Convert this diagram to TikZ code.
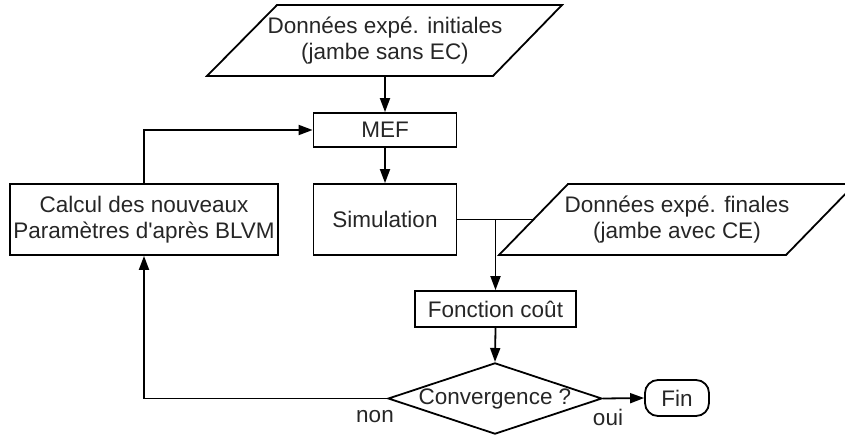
\documentclass[tikz,border=0pt]{standalone}
\usepackage{fontspec}
\setmainfont{Liberation Sans}[Ligatures=TeXOff]
\usetikzlibrary{arrows.meta,shapes.geometric}
\begin{document}
\begin{tikzpicture}[x=1pt,y=-1pt,
  every node/.style={font=\fontsize{22.5}{26}\selectfont, text=black!85},
  line/.style={line width=1.8pt, draw=black},
  arr/.style={line, -{Triangle[length=14pt,width=10pt]}},
  box/.style={line, rectangle, inner sep=0pt, align=center},
  ptext/.style={inner sep=0pt, align=center},
  lbl/.style={inner sep=0pt}]
\useasboundingbox (0,0) rectangle (845,439);
% top parallelogram
\draw[line] (277,5) -- (562,5) -- (493,76) -- (207,76) -- cycle;
\node[ptext, minimum height=71pt] (d1) at (385,40.5) {Données expé. initiales\\(jambe sans EC)};
% boxes
\node[box, minimum width=143pt, minimum height=34pt] (mef) at (385,130) {MEF};
\node[box, minimum width=143pt, minimum height=71pt] (sim) at (385,219.5) {Simulation};
\node[box, minimum width=268pt, minimum height=71pt] (calc) at (144,219.5) {Calcul des nouveaux\\Paramètres d'après BLVM};
% second parallelogram
\draw[line] (568,184) -- (855,184) -- (786,255) -- (499,255) -- cycle;
\node[ptext] (d2) at (677,219.5) {Données expé. finales\\(jambe avec CE)};
\coordinate (d2w) at (533.5,219.5);
% cost function
\node[box, minimum width=161pt, minimum height=36pt] (fc) at (495.5,309) {Fonction coût};
% decision
\node[line, diamond, aspect=3, inner sep=0pt, minimum width=212pt, minimum height=71pt] (conv) at (495,398.5) {Convergence ?};
\node[line, rounded corners=13pt, rectangle, inner sep=0pt, minimum width=64pt, minimum height=36pt] (fin) at (677,398) {Fin};
\node[lbl] (non) at (375,417) {non};
\node[lbl] (oui) at (608,417) {oui};
% connectors
\draw[arr] (d1.south) -- (mef.north);
\draw[arr] (mef.south) -- (sim.north);
\draw[arr] (calc.north) |- (mef.west);
\draw[line] (sim.east) -- (d2w);
\draw[arr] (fc.north |- sim.east) -- (fc.north);
\draw[arr] (fc.south) -- (conv.north);
\draw[arr] (conv.east) -- (fin.west);
\draw[arr] (conv.west) -| (calc.south);
\end{tikzpicture}
\end{document}
